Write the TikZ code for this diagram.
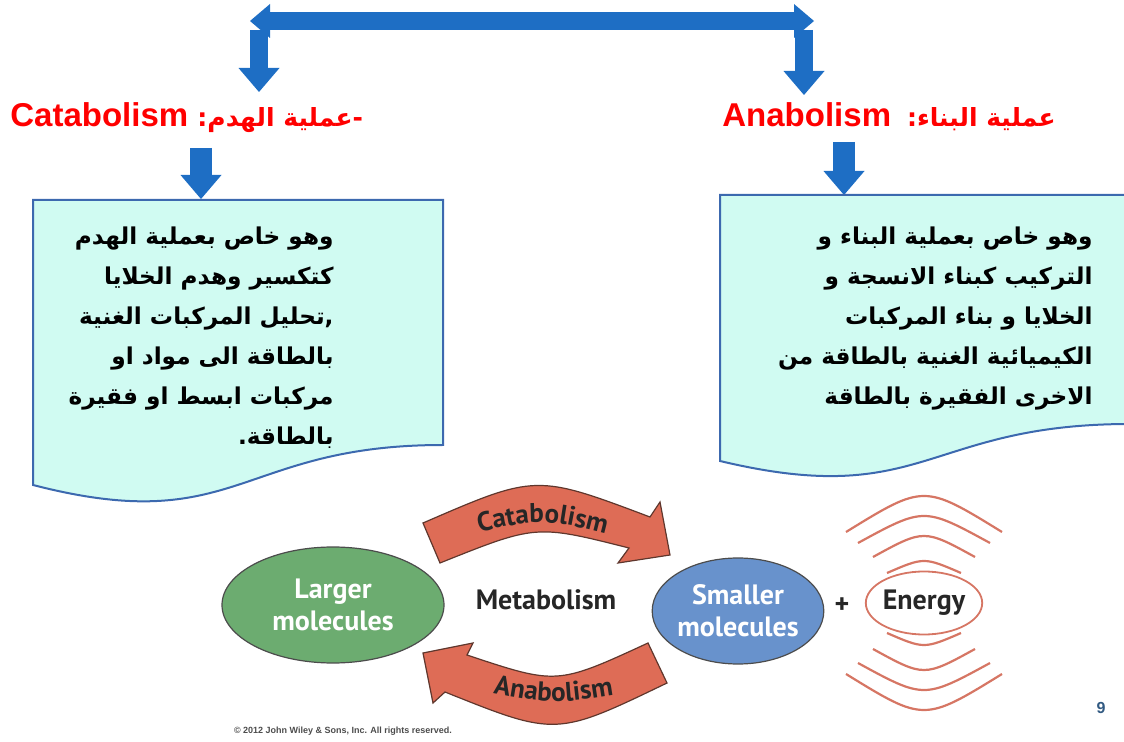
\documentclass[tikz,border=0pt]{standalone}
\usepackage{fontspec}
\setmainfont{Liberation Sans}
\newfontfamily\arabicfont[Script=Arabic]{DejaVu Sans}
\newfontfamily\figfont{PT Sans}
\usetikzlibrary{arrows.meta,shapes.geometric,decorations.text}
\TeXXeTstate=1

\definecolor{arrowblue}{RGB}{30,110,196}
\definecolor{boxfill}{RGB}{208,251,242}
\definecolor{boxline}{RGB}{60,105,175}
\definecolor{cyclered}{RGB}{222,108,86}
\definecolor{cycleline}{RGB}{95,55,45}
\definecolor{largegreen}{RGB}{108,172,112}
\definecolor{smallblue}{RGB}{104,146,204}
\definecolor{wavered}{RGB}{214,118,100}
\definecolor{pagenum}{RGB}{50,90,130}
\newcommand{\headarabic}{\arabicfont\fontsize{12.5}{18}\selectfont}

\begin{document}
\begin{tikzpicture}
	[x=0.5pt,y=-0.5pt,
	bar/.style={draw=arrowblue,line width=9pt},
	down/.style={draw=arrowblue,line width=#1,-{Triangle[width=20.5pt,length=12pt,line width=0pt]}},
	heading/.style={text=red,font=\fontsize{16.5}{18}\selectfont\bfseries,inner sep=0pt},
	docbox/.style={draw=boxline,fill=boxfill,line width=1pt},
	boxtext/.style={font=\arabicfont\fontsize{11.6}{20}\selectfont\bfseries,align=right,inner sep=0pt},
	figtext/.style={text=black!85,font=\figfont\fontsize{14}{16}\selectfont\bfseries},
	molecule/.style={ellipse,draw=black!70,line width=0.6pt,text=white,font=\figfont\fontsize{14}{16}\selectfont\bfseries,align=center,inner sep=0pt},
	cyclearrow/.style={fill=cyclered,draw=cycleline,line width=0.6pt},
	wave/.style={draw=wavered,line width=1.1pt}
	]
	\useasboundingbox (0,0) rectangle (1124,742);

	\coordinate (barL) at (250,21);
	\coordinate (barR) at (814,21);
	\draw[bar,{Triangle[width=17pt,length=10pt,line width=0pt]}-{Triangle[width=17pt,length=10pt,line width=0pt]}] (barL) -- (barR);
	\coordinate (barCat) at (259,30);
	\coordinate (catTip) at (259,92);
	\coordinate (barAna) at (804,30);
	\coordinate (anaTip) at (804,95);
	\draw[down=9pt] (barCat) -- (catTip);
	\draw[down=9pt] (barAna) -- (anaTip);

	\node[heading,anchor=base west] (catHead) at (10,127)
		{Catabolism {\headarabic\beginR\mbox{-}عملية الهدم\mbox{:}\endR}};
	\node[heading,anchor=base west] (anaHead) at (722,127)
		{Anabolism\hspace{8pt}{\headarabic\beginR عملية البناء\mbox{:}\endR}};

	\coordinate (catFrom) at (201,148);
	\coordinate (catBox) at (201,199);
	\coordinate (anaFrom) at (844,142);
	\coordinate (anaBox) at (844,195);
	\draw[down=11pt] (catFrom) -- (catBox);
	\draw[down=11pt] (anaFrom) -- (anaBox);

	\draw[docbox] (33,200) -- (443,200) -- (443,445) .. controls (238,445) and (238,538) .. (33,485) -- cycle;
	\draw[docbox] (720,195) -- (1130,195) -- (1130,424) .. controls (925,424) and (925,510) .. (720,461) -- cycle;

	\node[boxtext,anchor=north east] (catText) at (334,226) {
		\beginR وهو خاص بعملية الهدم\endR\\
		\beginR كتكسير وهدم الخلايا\endR\\
		\beginR\mbox{,}تحليل المركبات الغنية\endR\\
		\beginR بالطاقة الى مواد او\endR\\
		\beginR مركبات ابسط او فقيرة\endR\\
		\beginR بالطاقة\mbox{.}\endR};
	\node[boxtext,anchor=north east] (anaText) at (1093,226) {
		\beginR وهو خاص بعملية البناء و\endR\\
		\beginR التركيب كبناء الانسجة و\endR\\
		\beginR الخلايا و بناء المركبات\endR\\
		\beginR الكيميائية الغنية بالطاقة من\endR\\
		\beginR الاخرى الفقيرة بالطاقة\endR};

	\node[molecule,fill=largegreen,minimum width=111pt,minimum height=58pt] (large) at (333,605) {Larger\\molecules};
	\node[figtext] (meta) at (546,600) {Metabolism};
	\node[molecule,fill=smallblue,minimum width=85pt,minimum height=53pt] (small) at (738,611) {Smaller\\molecules};
	\node[figtext] (plus) at (842,606) {+};
	\node[figtext,ellipse,draw=wavered,line width=0.9pt,minimum width=56pt,minimum height=31.5pt,inner sep=0pt] (energy) at (924,603) {Energy};

	\draw[cyclearrow] (423,523) .. controls (536,474) .. (650,517) -- (660,502) -- (670,555) -- (618,563) -- (629,548) .. controls (536,524.5) .. (440,563) -- cycle;
	\path[decorate,decoration={text along path,text align=center,text={|\figfont\fontsize{13.5}{15}\selectfont\bfseries\color{black!85}|Catabolism}}]
		(460,537) .. controls (542,517) .. (625,539);
	\draw[cyclearrow] (648,643) .. controls (557,685) .. (467,655) -- (473,643) -- (423,653) -- (433,703) -- (445,692) .. controls (556,736.5) .. (667,683) -- cycle;
	\path[decorate,decoration={text along path,text align=center,text={|\figfont\fontsize{13.5}{15}\selectfont\bfseries\color{black!85}|Anabolism}}]
		(475,690) .. controls (553,705) .. (632,692);

	\foreach \hw/\tp/\sg in {78/95/24,66/78/18,51/60/14,37/38/8} {
		\draw[wave] ({924-\hw},{603-\tp+\sg}) .. controls (924,{603-\tp-\sg}) .. ({924+\hw},{603-\tp+\sg});
		\draw[wave] ({924-\hw},{603+\tp-\sg}) .. controls (924,{603+\tp+\sg}) .. ({924+\hw},{603+\tp-\sg});
	}

	\node[font=\fontsize{8}{9}\selectfont\bfseries,text=pagenum] (page) at (1101,708) {9};
	\node[font=\fontsize{4.5}{5}\selectfont\bfseries,text=black!70] (copy) at (343,731) {© 2012 John Wiley \& Sons, Inc. All rights reserved.};
\end{tikzpicture}
\end{document}
